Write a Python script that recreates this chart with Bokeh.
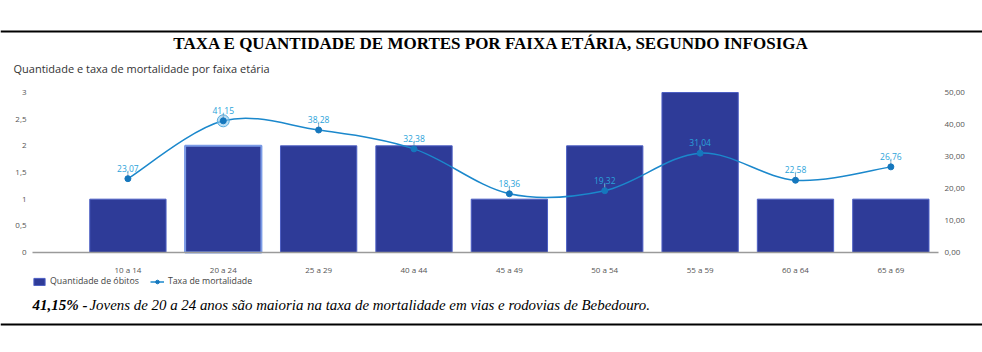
from bokeh.plotting import figure
from bokeh.models import (Range1d, LinearAxis, FixedTicker, Label, BoxAnnotation,
                          Legend, LegendItem)
from bokeh.embed import file_html
from bokeh.resources import INLINE
from bokeh.core.properties import value
import math

# ---------------- data ----------------
categories = ["10 a 14", "20 a 24", "25 a 29", "40 a 44", "45 a 49",
              "50 a 54", "55 a 59", "60 a 64", "65 a 69"]
obitos = [1, 2, 2, 2, 1, 2, 3, 1, 1]
taxa = [23.07, 41.15, 38.28, 32.38, 18.36, 19.32, 31.04, 22.58, 26.76]
left_ticks = [0, 0.5, 1, 1.5, 2, 2.5, 3]
left_tick_labels = ["0", "0,5", "1", "1,5", "2", "2,5", "3"]
right_ticks = [0, 10, 20, 30, 40, 50]
right_tick_labels = ["0,00", "10,00", "20,00", "30,00", "40,00", "50,00"]
highlight_index = 1

title_text = "TAXA E QUANTIDADE DE MORTES POR FAIXA ETÁRIA, SEGUNDO INFOSIGA"
subtitle_text = "Quantidade e taxa de mortalidade por faixa etária"
caption_bold = "41,15% -"
caption_text = "Jovens de 20 a 24 anos são maioria na taxa de mortalidade em vias e rodovias de Bebedouro."

# ---------------- styles / layout ----------------
W, H = 982, 352
BAR = "#2e3b98"
BAR_EDGE = "#4d5fc4"
BAR_HL = "#7b9be6"
LINE = "#1b88cc"
PT = "#1577bd"
LBL = "#2aa3da"
AX_TXT = "#555555"
SANS = "Open Sans"
SERIF = "Liberation Serif"

# pixel geometry of the chart area inside the whole canvas
PX_LEFT, PX_RIGHT = 32, 938        # x extent of axis line
CAT0_PX = 127.4                    # centre of first category
PX_Y0, PX_Y3 = 252, 92             # pixel rows of value 0 and 3
unit_x = (PX_RIGHT - PX_LEFT) / 9.5
x_start = -CAT0_PX / unit_x
x_end = x_start + W / unit_x
unit_y = (PX_Y0 - PX_Y3) / 3
y_start = -(H - PX_Y0) / unit_y
y_end = 3 + PX_Y3 / unit_y
RATE = 50 / 3

xs = list(range(len(categories)))

p = figure(width=W, height=H, x_range=Range1d(x_start, x_end), y_range=Range1d(y_start, y_end),
           min_border=0, output_backend="svg", toolbar_location=None,
           x_axis_type=None, y_axis_type=None)
p.extra_y_ranges = {"rate": Range1d(y_start * RATE, y_end * RATE)}
p.outline_line_color = None
p.background_fill_color = "white"
p.border_fill_color = "white"

def style_axis(ax):
    ax.major_tick_line_color = None
    ax.minor_tick_line_color = None
    ax.major_label_text_font = SANS
    ax.major_label_text_font_size = "8px"
    ax.major_label_text_color = AX_TXT

# x axis
xa = LinearAxis(ticker=FixedTicker(ticks=xs), fixed_location=0, bounds=(-1, 8.5))
xa.major_label_overrides = {i: c for i, c in zip(xs, categories)}
style_axis(xa)
xa.axis_line_color = "#9a9a9a"
xa.axis_line_width = 1.5
xa.major_label_standoff = 5
p.add_layout(xa, "below")

# left axis
ya = LinearAxis(ticker=FixedTicker(ticks=left_ticks), fixed_location=-1, bounds=(0, 3))
ya.major_label_overrides = {t: l for t, l in zip(left_ticks, left_tick_labels)}
style_axis(ya)
ya.axis_line_color = None
ya.major_label_standoff = 0
p.add_layout(ya, "left")

# right axis
ra = LinearAxis(y_range_name="rate", ticker=FixedTicker(ticks=right_ticks),
                fixed_location=8.5, bounds=(0, 50))
ra.major_label_overrides = {t: l for t, l in zip(right_ticks, right_tick_labels)}
style_axis(ra)
ra.axis_line_color = None
ra.major_label_standoff = 0
p.add_layout(ra, "right")

# bars
bars = p.vbar(x=xs, top=obitos, width=0.8, fill_color=BAR, line_color=BAR_EDGE, line_width=1)
p.vbar(x=[xs[highlight_index]], top=[obitos[highlight_index]], width=0.8,
       fill_color=BAR, line_color=BAR_HL, line_width=2)

# smooth line (Catmull-Rom as cubic bezier segments)
n = len(xs)
x0, y0, x1, y1, cx0, cy0, cx1, cy1 = [], [], [], [], [], [], [], []
for i in range(n - 1):
    pm = max(i - 1, 0)
    pp = min(i + 2, n - 1)
    x0.append(xs[i]); y0.append(taxa[i])
    x1.append(xs[i + 1]); y1.append(taxa[i + 1])
    cx0.append(xs[i] + (xs[i + 1] - xs[pm]) / 6)
    cy0.append(taxa[i] + (taxa[i + 1] - taxa[pm]) / 6)
    cx1.append(xs[i + 1] - (xs[pp] - xs[i]) / 6)
    cy1.append(taxa[i + 1] - (taxa[pp] - taxa[i]) / 6)
curve = p.bezier(x0=x0, y0=y0, x1=x1, y1=y1, cx0=cx0, cy0=cy0, cx1=cx1, cy1=cy1,
                 y_range_name="rate", line_color=LINE, line_width=1.5)

# highlight halo
p.scatter(x=[xs[highlight_index]], y=[taxa[highlight_index]], size=12, y_range_name="rate",
          fill_color="#8cc8ec", fill_alpha=0.6, line_color="#5aaee0", line_width=1)

# leader lines and points
p.ray(x=xs, y=taxa, length=7, length_units="screen", angle=math.pi / 2,
      y_range_name="rate", line_color="#8aa8c0", line_width=1)
pts = p.scatter(x=xs, y=taxa, size=6, y_range_name="rate", fill_color=PT, line_color=PT)

labels = [f"{v:.2f}".replace(".", ",") for v in taxa]
p.text(x=xs, y=taxa, text=labels, y_range_name="rate", y_offset=-7,
       text_align="center", text_baseline="bottom", text_font=value(SANS),
       text_font_size="8.5px", text_color=LBL)

# legend
legend = Legend(items=[LegendItem(label="Quantidade de óbitos", renderers=[bars]),
                       LegendItem(label="Taxa de mortalidade", renderers=[curve, pts])],
                location=(32, 65), orientation="horizontal", padding=0, margin=0,
                spacing=11, glyph_width=14, glyph_height=9, label_standoff=4,
                label_text_font=SANS, label_text_font_size="8.8px", label_text_color="#444444",
                background_fill_alpha=0, border_line_color=None)
p.add_layout(legend, "center")

# texts (screen units from canvas bottom-left)
p.add_layout(Label(x=491, y=H - 43, x_units="screen", y_units="screen", text=title_text,
                   text_align="center", text_baseline="middle", text_font=SERIF,
                   text_font_style="bold", text_font_size="17px", text_color="#000000"))
p.add_layout(Label(x=13, y=H - 68, x_units="screen", y_units="screen", text=subtitle_text,
                   text_align="left", text_baseline="middle", text_font=SANS,
                   text_font_size="11px", text_color="#333333"))
p.add_layout(Label(x=32, y=H - 304, x_units="screen", y_units="screen", text=caption_bold,
                   text_align="left", text_baseline="middle", text_font=SERIF,
                   text_font_style="bold italic", text_font_size="15px", text_color="#000000"))
p.add_layout(Label(x=89, y=H - 304, x_units="screen", y_units="screen", text=caption_text,
                   text_align="left", text_baseline="middle", text_font=SERIF,
                   text_font_style="italic", text_font_size="14.9px", text_color="#000000"))

# horizontal rules
for top_px in (30, 323):
    p.add_layout(BoxAnnotation(left=0, right=W, top=H - top_px, bottom=H - top_px - 2,
                               left_units="screen", right_units="screen",
                               bottom_units="screen", top_units="screen",
                               fill_color="black", fill_alpha=1, line_color=None))

open("out.html", "w").write(file_html(p, INLINE))
